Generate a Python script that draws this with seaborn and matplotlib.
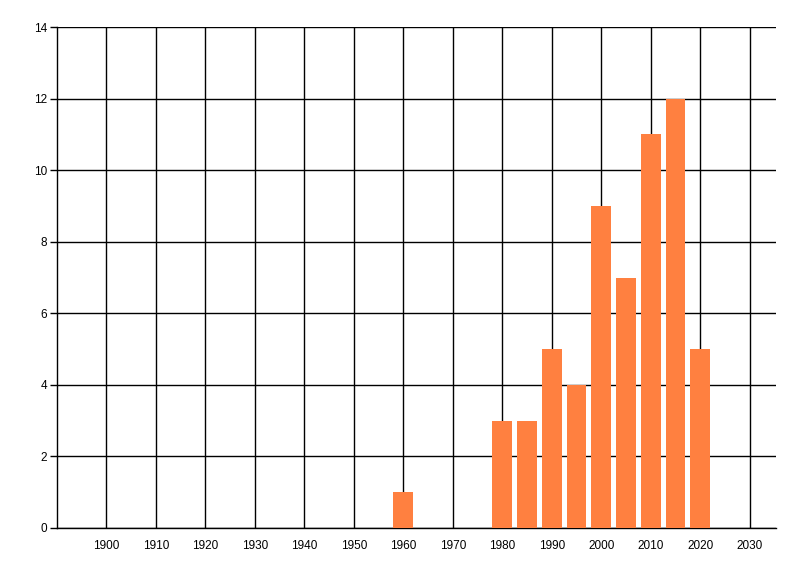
import matplotlib
matplotlib.use('Agg')
import matplotlib.pyplot as plt
import pandas as pd
import seaborn as sns

# dati
anni = [1960, 1980, 1985, 1990, 1995, 2000, 2005, 2010, 2015, 2020]
conteggi = [1, 3, 3, 5, 4, 9, 7, 11, 12, 5]
tick_x = list(range(1900, 2031, 10))
tick_y = list(range(0, 15, 2))

data = pd.DataFrame({'Anno': anni, 'Conteggio': conteggi})

sns.set_style('white')
plt.rcParams['font.family'] = ['Liberation Sans', 'DejaVu Sans']

fig = plt.figure(figsize=(8, 5.76), dpi=100)
ax = fig.add_axes([57 / 800, 48 / 576, 719 / 800, 501 / 576])

sns.barplot(data=data, x='Anno', y='Conteggio', native_scale=True,
            width=0.8, color='#FF8040', saturation=1, linewidth=0,
            ax=ax, zorder=3)

ax.set_xlim(1890, 2035.3)
ax.set_ylim(0, 14)
ax.set_xticks(tick_x)
ax.set_yticks(tick_y)
ax.grid(True, color='black', linewidth=1)
ax.set_axisbelow(True)
ax.set_xlabel('')
ax.set_ylabel('')

for s in ['top', 'right']:
    ax.spines[s].set_visible(False)
for s in ['left', 'bottom']:
    ax.spines[s].set_color('black')
    ax.spines[s].set_linewidth(1)

ax.tick_params(axis='y', left=True, length=5, width=1, color='black',
               labelcolor='black', labelsize=8.5, pad=2)
ax.tick_params(axis='x', bottom=False, labelcolor='black', labelsize=8.5, pad=5)

fig.savefig('out.png', dpi=100)
